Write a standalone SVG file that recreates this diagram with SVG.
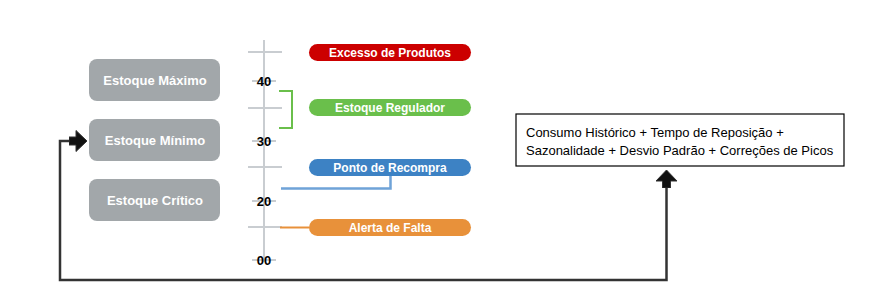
<svg xmlns="http://www.w3.org/2000/svg" width="870" height="306" viewBox="0 0 870 306">
<style>
.gbox{fill:#a2a7aa;}
.gtxt{font-family:"Liberation Sans",Arial,sans-serif;font-weight:bold;font-size:13px;fill:#fff;text-anchor:middle;}
.ptxt{font-family:"Liberation Sans",Arial,sans-serif;font-weight:bold;font-size:12px;fill:#fff;text-anchor:middle;}
.num{font-family:"Liberation Sans",Arial,sans-serif;font-weight:bold;font-size:13px;fill:#000;text-anchor:middle;}
.axis{stroke:#c9cdd1;stroke-width:2;fill:none;}
.ftxt{font-family:"Liberation Sans",Arial,sans-serif;font-size:13px;fill:#000;}
.conn{stroke:#333;stroke-width:2.5;fill:none;}
</style>
<defs>
<marker id="arr" viewBox="0 0 18 22" refX="17" refY="11" markerWidth="18" markerHeight="22" markerUnits="userSpaceOnUse" orient="auto-start-reverse">
<path d="M18,11 L7,0.5 L7,7 L0,7 L0,15 L7,15 L7,21.5 Z" fill="#111" stroke="#333" stroke-width="1"/>
</marker>
</defs>
<rect width="870" height="306" fill="#fff"/>

<g id="axis">
<line class="axis" x1="264" y1="40" x2="264" y2="262"/>
<line class="axis" x1="248" y1="52" x2="282" y2="52"/>
<line class="axis" x1="248" y1="108" x2="282" y2="108"/>
<line class="axis" x1="248" y1="167" x2="282" y2="167"/>
<line class="axis" x1="248" y1="227" x2="282" y2="227"/>
<line class="axis" x1="252" y1="81" x2="276" y2="81"/>
<line class="axis" x1="252" y1="141" x2="276" y2="141"/>
<line class="axis" x1="252" y1="201" x2="276" y2="201"/>
<line class="axis" x1="252" y1="260" x2="276" y2="260"/>
<text class="num" x="264" y="86">40</text>
<text class="num" x="264" y="146">30</text>
<text class="num" x="264" y="206">20</text>
<text class="num" x="264" y="265">00</text>
</g>

<g id="estoque-maximo">
<rect class="gbox" x="89" y="59" width="131" height="42" rx="8"/>
<text class="gtxt" x="155" y="85">Estoque Máximo</text>
</g>
<g id="estoque-minimo">
<rect class="gbox" x="89" y="119" width="131" height="42" rx="8"/>
<text class="gtxt" x="155" y="145">Estoque Mínimo</text>
</g>
<g id="estoque-critico">
<rect class="gbox" x="89" y="179" width="131" height="42" rx="8"/>
<text class="gtxt" x="155" y="205">Estoque Crítico</text>
</g>

<g id="excesso">
<rect x="309" y="44" width="162" height="17" rx="8.5" fill="#cc0000"/>
<text class="ptxt" x="390" y="57">Excesso de Produtos</text>
</g>
<g id="regulador">
<rect x="309" y="99" width="162" height="17" rx="8.5" fill="#6abf4b"/>
<text class="ptxt" x="390" y="112">Estoque Regulador</text>
</g>
<g id="recompra">
<rect x="309" y="159" width="162" height="17" rx="8.5" fill="#3d82c4"/>
<text class="ptxt" x="390" y="172">Ponto de Recompra</text>
</g>
<g id="alerta">
<rect x="309" y="219" width="162" height="17" rx="8.5" fill="#e8913a"/>
<text class="ptxt" x="390" y="232">Alerta de Falta</text>
</g>

<g id="formula">
<rect x="516" y="114" width="328" height="52" fill="#fff" stroke="#000" stroke-width="1.2"/>
<text class="ftxt" x="526" y="137">Consumo Histórico + Tempo de Reposição +</text>
<text class="ftxt" x="526" y="155">Sazonalidade + Desvio Padrão + Correções de Picos</text>
</g>

<g id="connectors">
<path d="M279,91 L292,91 L292,128 L279,128" fill="none" stroke="#6abf4b" stroke-width="2"/>
<path d="M281,188.5 L390.5,188.5 L390.5,176" fill="none" stroke="#6fa3d8" stroke-width="2.5"/>
<line x1="280" y1="227.5" x2="309" y2="227.5" stroke="#e8913a" stroke-width="2"/>
<path class="conn" d="M666.5,171 L666.5,280 L60,280 L60,141 L86,141" marker-start="url(#arr)" marker-end="url(#arr)"/>
</g>
</svg>
